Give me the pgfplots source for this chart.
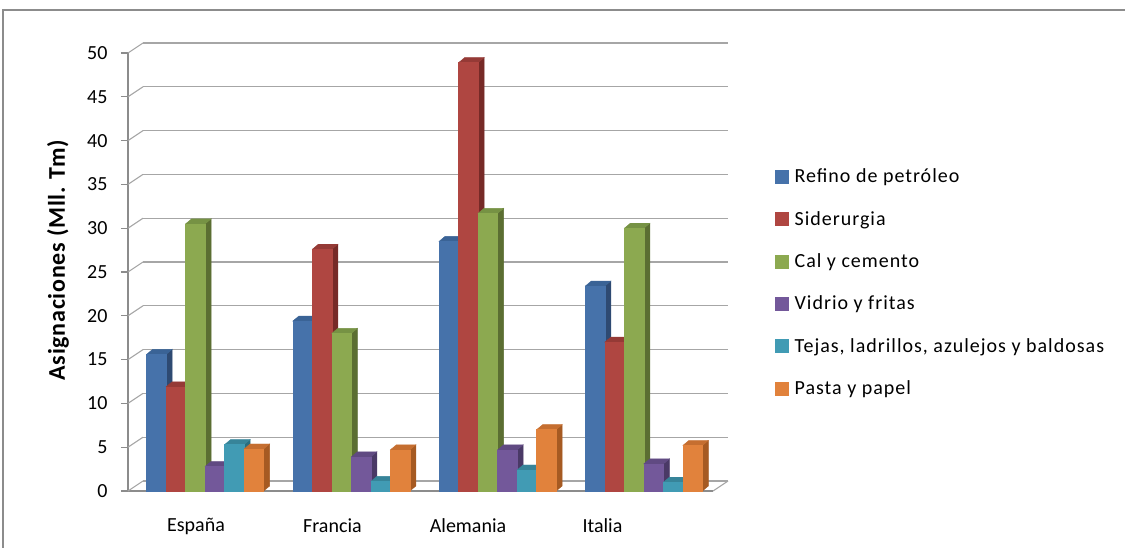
\documentclass[border=0pt]{standalone}
\usepackage{fontspec}
\setmainfont{Carlito}
\usepackage{pgfplots}
\usepackage{pgfplotstable}
\pgfplotsset{compat=1.18}

% front / side / top shades of each series
\definecolor{bluF}{HTML}{4672AA}\definecolor{bluS}{HTML}{2E4A72}\definecolor{bluT}{HTML}{3A6396}
\definecolor{redF}{HTML}{AF4641}\definecolor{redS}{HTML}{762A27}\definecolor{redT}{HTML}{953A36}
\definecolor{grnF}{HTML}{8CA950}\definecolor{grnS}{HTML}{5B6E32}\definecolor{grnT}{HTML}{769244}
\definecolor{purF}{HTML}{73589A}\definecolor{purS}{HTML}{4A3966}\definecolor{purT}{HTML}{604A82}
\definecolor{cyaF}{HTML}{419BB4}\definecolor{cyaS}{HTML}{2A6E80}\definecolor{cyaT}{HTML}{378499}
\definecolor{oraF}{HTML}{E1823C}\definecolor{oraS}{HTML}{A65A22}\definecolor{oraT}{HTML}{C56E30}
\definecolor{gridc}{HTML}{A6A6A6}
\definecolor{axc}{HTML}{8C8C8C}

\pgfdeclareplotmark{none3d}{}

% allocations (Mll. Tm) per country
\pgfplotstableread{
x    ref   sid   cal   vid  tej  pas
0.5  15.6  11.9  30.5  2.8  5.3  4.8
1.5  19.4  27.6  18.0  3.9  1.1  4.7
2.5  28.5  48.9  31.7  4.7  2.4  7.0
3.5  23.4  17.0  30.0  3.1  1.0  5.2
}\datatable

% one 3-D column per point: front face, right side and top,
% set back 3pt from the front plane of the floor
\pgfplotsset{
  col3d/.style n args={4}{%  #1 shift (pt), #2 front, #3 side, #4 top
    scatter, only marks, mark=none3d,
    visualization depends on={y \as \val},
    scatter/@pre marker code/.code={%
      \pgfmathsetmacro\hh{\val*8.76}%
      \pgfmathsetmacro\xl{#1-9.75}%
      \pgfmathsetmacro\xr{#1+9.75}%
      \begin{scope}[yshift=3pt]
      \fill[#3] (\xr pt,0pt) -- ++(6pt,5pt) -- ++(0pt,-\hh pt) -- ++(-6pt,-5pt) -- cycle;
      \fill[#4] (\xl pt,0pt) -- ++(6pt,5pt) -- ++(19.5pt,0pt) -- ++(-6pt,-5pt) -- cycle;
      \fill[#2] (\xl pt,0pt) rectangle (\xr pt,-\hh pt);
      \end{scope}
    },
    scatter/@post marker code/.code={},
    legend image code/.code={\fill[#2] (0pt,-6.5pt) rectangle (13pt,6.5pt);},
  },
}

\begin{document}
\begin{tikzpicture}
\useasboundingbox (0,0) rectangle (1125pt,547pt);
% chart area frame
\draw[axc, line width=1.3pt] (3pt,-5pt) -- (3pt,537pt) -- (1130pt,537pt);

% back wall with gridlines
\begin{axis}[
  at={(143pt,66pt)}, anchor=south west,
  scale only axis, width=585pt, height=438pt,
  xmin=0, xmax=4, ymin=0, ymax=50,
  axis line style={draw=none}, tick style={draw=none},
  ytick={0,5,...,50}, yticklabels={}, xtick=\empty,
  ymajorgrids, grid style={gridc, line width=1.3pt},
]
\addplot[draw=none] coordinates {(0,0)};
\end{axis}

% front plane: axes, columns, legend
\begin{axis}[
  at={(128pt,56pt)}, anchor=south west,
  scale only axis, width=585pt, height=438pt,
  xmin=0, xmax=4, ymin=0, ymax=50,
  axis x line*=bottom, axis y line*=left,
  axis line style={axc, line width=1.1pt, -},
  ytick={0,5,...,50},
  xtick={0.465,1.398,2.325,3.244},
  xticklabels={España,Francia,Alemania,Italia},
  minor xtick={0,1,2,3,4},
  tick align=outside,
  major tick length=7pt, minor tick length=8pt,
  xtick style={draw=none},
  minor tick style={axc, line width=1.1pt},
  ytick style={axc, line width=1.1pt},
  /pgf/number format/assume math mode=true,
  yticklabel style={font=\fontsize{20}{24}\selectfont, anchor=east, xshift=-10pt},
  xticklabel style={font=\fontsize{20}{24}\selectfont, yshift=-17pt},
  ylabel={Asignaciones (Mll. Tm)},
  ylabel style={font=\fontsize{24}{28}\selectfont\bfseries\addfontfeatures{LetterSpace=3},
    at={(axis description cs:-0.1197,0.527)}, rotate=0, anchor=center},
  legend cell align=left,
  legend style={draw=none, fill=none, at={(axis description cs:1.106,0.476)}, anchor=west,
    font=\fontsize{20}{24}\selectfont\addfontfeatures{LetterSpace=5},
    row sep=21pt, column sep=3pt, inner sep=0pt,
    nodes={inner sep=3pt}},
  clip=false,
]
% side wall: connectors between the front ticks and the back gridlines
\pgfplotsinvokeforeach{0,5,...,50}{
  \draw[gridc, line width=1.1pt] (axis cs:0,#1) -- ++(15pt,10pt);
}
\draw[gridc, line width=1.1pt] (axis cs:4,0) -- ++(15pt,10pt);

\addplot[col3d={-44.75}{bluF}{bluS}{bluT}] table[x=x,y=ref]{\datatable};
\addlegendentry{Refino de petróleo}
\addplot[col3d={-25.25}{redF}{redS}{redT}] table[x=x,y=sid]{\datatable};
\addlegendentry{Siderurgia}
\addplot[col3d={-5.75}{grnF}{grnS}{grnT}] table[x=x,y=cal]{\datatable};
\addlegendentry{Cal y cemento}
\addplot[col3d={13.75}{purF}{purS}{purT}] table[x=x,y=vid]{\datatable};
\addlegendentry{Vidrio y fritas}
\addplot[col3d={33.25}{cyaF}{cyaS}{cyaT}] table[x=x,y=tej]{\datatable};
\addlegendentry{Tejas, ladrillos, azulejos y baldosas}
\addplot[col3d={52.75}{oraF}{oraS}{oraT}] table[x=x,y=pas]{\datatable};
\addlegendentry{Pasta y papel}
\end{axis}
\end{tikzpicture}
\end{document}
